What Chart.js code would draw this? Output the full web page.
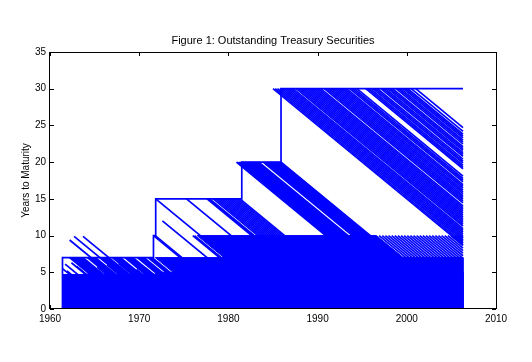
<!DOCTYPE html>
<html>
<head>
<meta charset="utf-8">
<script src="https://cdn.jsdelivr.net/npm/chart.js@4.4.1/dist/chart.umd.min.js"></script>
<style>
html,body{margin:0;padding:0;background:#fff;}
#wrap{width:532px;height:362px;}
</style>
</head>
<body>
<div id="wrap"><canvas id="c" width="532" height="362"></canvas></div>
<script>
// ---------------- DATA ----------------
const titleText = "Figure 1: Outstanding Treasury Securities";
const yLabelText = "Years to Maturity";
const xTickValues = [1960, 1970, 1980, 1990, 2000, 2010];
const yTickValues = [0, 5, 10, 15, 20, 25, 30, 35];

const lastObs = 2006.3;               // last observation date in the sample

// maximum maturity outstanding (step line)
const envYear = [1961.4, 1961.4, 1971.6, 1971.6, 1971.85, 1971.85, 1981.5, 1981.5, 1985.9, 1985.9, 2006.3];
const envTTM  = [0, 7, 7, 10, 10, 15, 15, 20, 20, 30, 30];

// densely packed regions (bills / short notes, 7-year notes, 10-year notes)
const shortYear = [1961.4, 1961.4, 1971.8, 1971.8, 2006.3, 2006.3];
const shortTTM  = [0, 4.7, 4.7, 5.0, 5.0, 0];
const note7Year = [1971.8, 2006.3, 2006.3, 1978.8];
const note7TTM  = [7, 7, 0, 0];
const note10Year = [1976.5, 1996.6, 2006.3, 2006.3, 1986.5];
const note10TTM  = [10, 10, 0.3, 0, 0];

// individual securities: issue date (and years to maturity at issue)
const early7Issue = [1962.2, 1962.35, 1962.5, 1962.65, 1962.8, 1962.95, 1963.1, 1963.25, 1963.4, 1963.55, 1963.7,
                     1964.2, 1964.35, 1964.5, 1964.65, 1964.8, 1964.95, 1965.1,
                     1965.6, 1965.75, 1965.9, 1966.05, 1966.2, 1966.35, 1966.5,
                     1967.0, 1967.15, 1967.3, 1967.45, 1967.6, 1967.75, 1967.9,
                     1968.4, 1968.55, 1968.7, 1968.85, 1969.0, 1969.15, 1969.3,
                     1969.8, 1969.95, 1970.1, 1970.25, 1970.4, 1970.55,
                     1971.0, 1971.15, 1971.3, 1971.45];
const earlyMidIssue = [1961.4, 1961.7, 1961.9, 1962.4, 1963.0, 1963.6, 1964.0, 1964.2, 1964.5, 1964.8, 1965.3, 1965.9, 1966.4, 1967.0, 1967.7, 1968.3, 1968.8, 1969.3, 1969.7, 1970.2, 1970.7, 1971.2];
const earlyMidTTM   = [5.5, 6.1, 5.2, 6.3, 5.8, 6.0, 6.6, 5.0, 5.9, 5.7, 5.7, 5.3, 6.0, 5.5, 6.2, 5.0, 5.8, 6.4, 5.4, 6.0, 5.6, 5.0];
const earlyLongIssue = [1962.2, 1962.7, 1963.7];
const earlyLongTTM   = [9.4, 9.9, 9.9];
const otherIssue = [1971.6, 1971.8, 1971.85, 1972.6, 1975.3, 1976.0, 1976.2];
const otherTTM   = [10, 10, 15, 12, 15, 10, 10];
const issue15 = [1977.6, 1977.75, 1977.9, 1978.3, 1978.55, 1978.8, 1979.05, 1979.3, 1979.55, 1979.8, 1980.05, 1980.3, 1980.55, 1980.8, 1981.05, 1981.3];
const issue20 = [1980.9, 1981.0, 1981.15, 1981.3, 1981.4, 1981.5, 1981.65, 1981.8, 1981.9, 1982.0, 1982.15, 1982.3, 1982.4, 1982.5, 1982.65, 1982.8, 1982.9, 1983.0, 1983.15, 1983.3, 1983.4,
                 1983.9, 1984.0, 1984.15, 1984.3, 1984.4, 1984.5, 1984.65, 1984.8, 1984.9, 1985.0, 1985.15, 1985.3, 1985.4, 1985.5, 1985.65, 1985.8, 1985.9];
const issue30 = [1985.0, 1985.25, 1985.5, 1985.75, 1986.0, 1986.25, 1986.5, 1986.75, 1987.0, 1987.25, 1987.6, 1987.85, 1988.1, 1988.35, 1988.6, 1988.85, 1989.1, 1989.35, 1989.6, 1989.85, 1990.1, 1990.35, 1990.75, 1991.0, 1991.25, 1991.5, 1991.75, 1992.0, 1992.25, 1992.5, 1992.75, 1993.0, 1993.25, 1993.6, 1993.85, 1994.1, 1994.4,
                 1995.4, 1995.65, 1995.9, 1996.2, 1996.45, 1996.7, 1997.1, 1997.35, 1997.6, 1997.9, 1998.15, 1998.4, 1998.8, 1999.05, 1999.3, 1999.6, 1999.85, 2000.1, 2000.5, 2001.0];
const issue10Late = [1996.9, 1997.25, 1997.6, 1997.95, 1998.3, 1998.65, 1999.0, 1999.35, 1999.7, 2000.05, 2000.4, 2000.75, 2001.1, 2001.45, 2001.8, 2002.15, 2002.5, 2002.85, 2003.2, 2003.55, 2003.9, 2004.25, 2004.6, 2004.95, 2005.3, 2005.65, 2006.0];

// ---------------- CHART ----------------
const BLUE = '#0000ff';
const LW = 1.7;
const datasets = [];

function lineSet(xs, ys, extra) {
  return Object.assign({
    type: 'scatter', showLine: true, fill: false,
    data: xs.map((x, i) => ({x: x, y: ys[i]})),
    borderColor: BLUE, backgroundColor: BLUE, borderWidth: LW,
    pointRadius: 0, pointHoverRadius: 0, tension: 0
  }, extra || {});
}
function security(t, m) {
  const end = Math.min(t + m, lastObs);
  return lineSet([t, end], [m, m - (end - t)]);
}
function region(xs, ys) {
  return lineSet(xs.concat([xs[0]]), ys.concat([ys[0]]), {fill: 'shape', borderWidth: 1});
}

datasets.push(region(shortYear, shortTTM));
datasets.push(region(note7Year, note7TTM));
datasets.push(region(note10Year, note10TTM));
early7Issue.forEach(t => datasets.push(security(t, 7)));
earlyMidIssue.forEach((t, i) => datasets.push(security(t, earlyMidTTM[i])));
earlyLongIssue.forEach((t, i) => datasets.push(security(t, earlyLongTTM[i])));
otherIssue.forEach((t, i) => datasets.push(security(t, otherTTM[i])));
issue15.forEach(t => datasets.push(security(t, 15)));
issue20.forEach(t => datasets.push(security(t, 20)));
issue30.forEach(t => datasets.push(security(t, 30)));
issue10Late.forEach(t => datasets.push(security(t, 10)));
datasets.push(lineSet(envYear, envTTM));

const FONT = '"Liberation Sans", Arial, Helvetica, sans-serif';

const tickPlugin = {
  id: 'inwardTicks',
  beforeDatasetsDraw(chart) {
    const {ctx, chartArea: a, scales} = chart;
    const L = 4;
    ctx.save();
    ctx.strokeStyle = '#000';
    ctx.lineWidth = 1;
    ctx.beginPath();
    scales.x.ticks.forEach(t => {
      const px = Math.round(scales.x.getPixelForValue(t.value)) + 0.5;
      ctx.moveTo(px, a.bottom); ctx.lineTo(px, a.bottom - L);
      ctx.moveTo(px, a.top); ctx.lineTo(px, a.top + L);
    });
    scales.y.ticks.forEach(t => {
      const py = Math.round(scales.y.getPixelForValue(t.value)) + 0.5;
      ctx.moveTo(a.left, py); ctx.lineTo(a.left + L, py);
      ctx.moveTo(a.right, py); ctx.lineTo(a.right - L, py);
    });
    ctx.stroke();
    ctx.restore();
  },
  afterDraw(chart) {
    const {ctx, chartArea: a} = chart;
    ctx.save();
    ctx.strokeStyle = '#000';
    ctx.lineWidth = 1;
    ctx.strokeRect(Math.round(a.left) - 0.5, Math.round(a.top) + 0.5, Math.round(a.right - a.left) + 1, Math.round(a.bottom - a.top) - 1);
    ctx.fillStyle = '#000';
    ctx.textAlign = 'center';
    ctx.textBaseline = 'middle';
    ctx.font = '11px ' + FONT;
    ctx.fillText(titleText, (a.left + a.right) / 2, 41);
    ctx.translate(26, (a.top + a.bottom) / 2);
    ctx.rotate(-Math.PI / 2);
    ctx.font = '10px ' + FONT;
    ctx.fillText(yLabelText, 0, 0);
    ctx.restore();
  }
};

new Chart(document.getElementById('c'), {
  type: 'scatter',
  data: {datasets: datasets},
  options: {
    responsive: false,
    animation: false,
    devicePixelRatio: 1,
    layout: {padding: {left: 0, right: 36, top: 52, bottom: 0}},
    plugins: {legend: {display: false}, tooltip: {enabled: false}, title: {display: false}},
    elements: {point: {radius: 0}, line: {tension: 0}},
    scales: {
      x: {
        type: 'linear', min: 1960, max: 2010,
        afterBuildTicks(scale) { scale.ticks = xTickValues.map(v => ({value: v})); },
        afterFit(scale) { scale.height = 53; },
        grid: {display: false, drawTicks: false, tickLength: 0},
        border: {display: false},
        ticks: {color: '#000', font: {family: FONT, size: 10}, padding: 4, maxRotation: 0, autoSkip: false,
                callback: v => String(v)}
      },
      y: {
        type: 'linear', min: 0, max: 35,
        afterBuildTicks(scale) { scale.ticks = yTickValues.map(v => ({value: v})); },
        afterFit(scale) { scale.width = 50; },
        grid: {display: false, drawTicks: false, tickLength: 0},
        border: {display: false},
        ticks: {color: '#000', font: {family: FONT, size: 10}, padding: 4, autoSkip: false,
                callback: v => String(v)}
      }
    }
  },
  plugins: [tickPlugin]
});
</script>
</body>
</html>
